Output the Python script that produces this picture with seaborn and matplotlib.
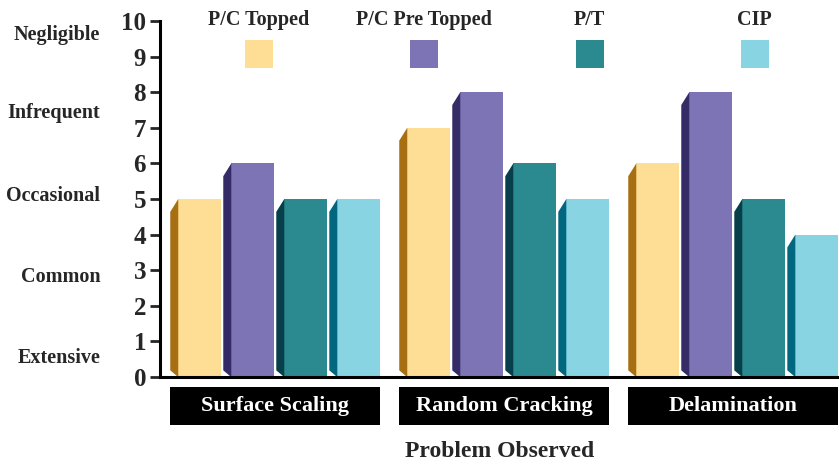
#!/usr/bin/env python3
"""
Problem observed by repair type - pseudo 3D bar chart
"""
import matplotlib
matplotlib.use("Agg")
import matplotlib.pyplot as plt
from matplotlib.patches import Polygon, Rectangle
import matplotlib.transforms as mtransforms
import numpy as np
import pandas as pd
import seaborn as sns

# Data
problems = ['Surface Scaling', 'Random Cracking', 'Delamination']
types = ['P/C Topped', 'P/C Pre Topped', 'P/T', 'CIP']
pc_topped = [5, 7, 6]
pc_pre_topped = [6, 8, 8]
pt = [5, 6, 5]
cip = [5, 5, 4]
rating_labels = ['Negligible', 'Infrequent', 'Occasional', 'Common', 'Extensive']
rating_label_pos = [9.6, 7.42, 5.08, 2.81, 0.53]

front_colors = ['#FDDE94', '#7D74B5', '#2A8A8F', '#89D4E3']
side_colors = ['#A86E12', '#352B66', '#063F49', '#00677F']

rows = []
for t, vals in zip(types, [pc_topped, pc_pre_topped, pt, cip]):
    for p, v in zip(problems, vals):
        rows.append({'problem': p, 'type': t, 'rating': v})
df = pd.DataFrame(rows)

sns.set_style("white")
plt.rcParams['font.family'] = ['Liberation Serif', 'DejaVu Serif']
plt.rcParams['font.weight'] = 'bold'

fig = plt.figure(figsize=(8.39, 4.65), dpi=100)
ax = fig.add_axes([0.1907, 0.189, 0.8093, 0.766])

sns.barplot(data=df, x='problem', y='rating', hue='type', order=problems,
            hue_order=types, palette=front_colors, saturation=1,
            width=0.926, gap=0.188, legend=False, ax=ax, edgecolor='none')

# Darker left side faces for a 3D look
side_w = 0.035
top_drop = 0.36
bot_rise = 0.19
for i, bars in enumerate(ax.containers):
    for bar in bars:
        x0 = bar.get_x()
        h = bar.get_height()
        poly = Polygon([(x0, 0), (x0, h), (x0 - side_w, h - top_drop),
                        (x0 - side_w, bot_rise)], closed=True,
                       facecolor=side_colors[i], edgecolor='none', zorder=2)
        ax.add_patch(poly)

ax.set_ylim(0, 10)
ax.set_xlim(-0.521, 2.444)
ax.set_yticks(range(0, 11))
ax.tick_params(axis='y', direction='out', length=7, width=2, labelsize=18,
               pad=3, left=True)
ax.tick_params(axis='x', bottom=False, labelbottom=False)
for lbl in ax.get_yticklabels():
    lbl.set_fontweight('bold')
for s in ['top', 'right']:
    ax.spines[s].set_visible(False)
for s in ['left', 'bottom']:
    ax.spines[s].set_linewidth(2.2)
    ax.spines[s].set_color('black')
ax.set_ylabel('')

# Rating descriptions on the far left
trans_y = mtransforms.blended_transform_factory(ax.transAxes, ax.transData)
for lab, pos in zip(rating_labels, rating_label_pos):
    ax.text(-0.088, pos, lab, transform=trans_y, ha='right', va='center',
            fontsize=14.5, fontweight='bold')

# Category labels in black boxes
trans_x = mtransforms.blended_transform_factory(ax.transData, ax.transAxes)
for i, p in enumerate(problems):
    cx = i - side_w / 2
    ax.add_patch(Rectangle((cx - 0.4585, -0.135), 0.917, 0.107,
                           transform=trans_x, facecolor='black',
                           edgecolor='none', clip_on=False))
    ax.text(cx, -0.081, p, transform=trans_x, ha='center', va='center',
            color='white', fontsize=16, fontweight='bold')

ax.set_xlabel('Problem Observed', fontsize=17, fontweight='bold', labelpad=46)

# Legend: labels above colored squares
for i, t in enumerate(types):
    x0 = 0.125 + i * 0.2435
    ax.add_patch(Rectangle((x0, 0.868), 0.0412, 0.079, transform=ax.transAxes,
                           facecolor=front_colors[i], edgecolor='none',
                           clip_on=False))
    ax.text(x0 + 0.0206, 1.003, t, transform=ax.transAxes, ha='center',
            va='center', fontsize=14.5, fontweight='bold')

plt.savefig('out.png', dpi=100)
